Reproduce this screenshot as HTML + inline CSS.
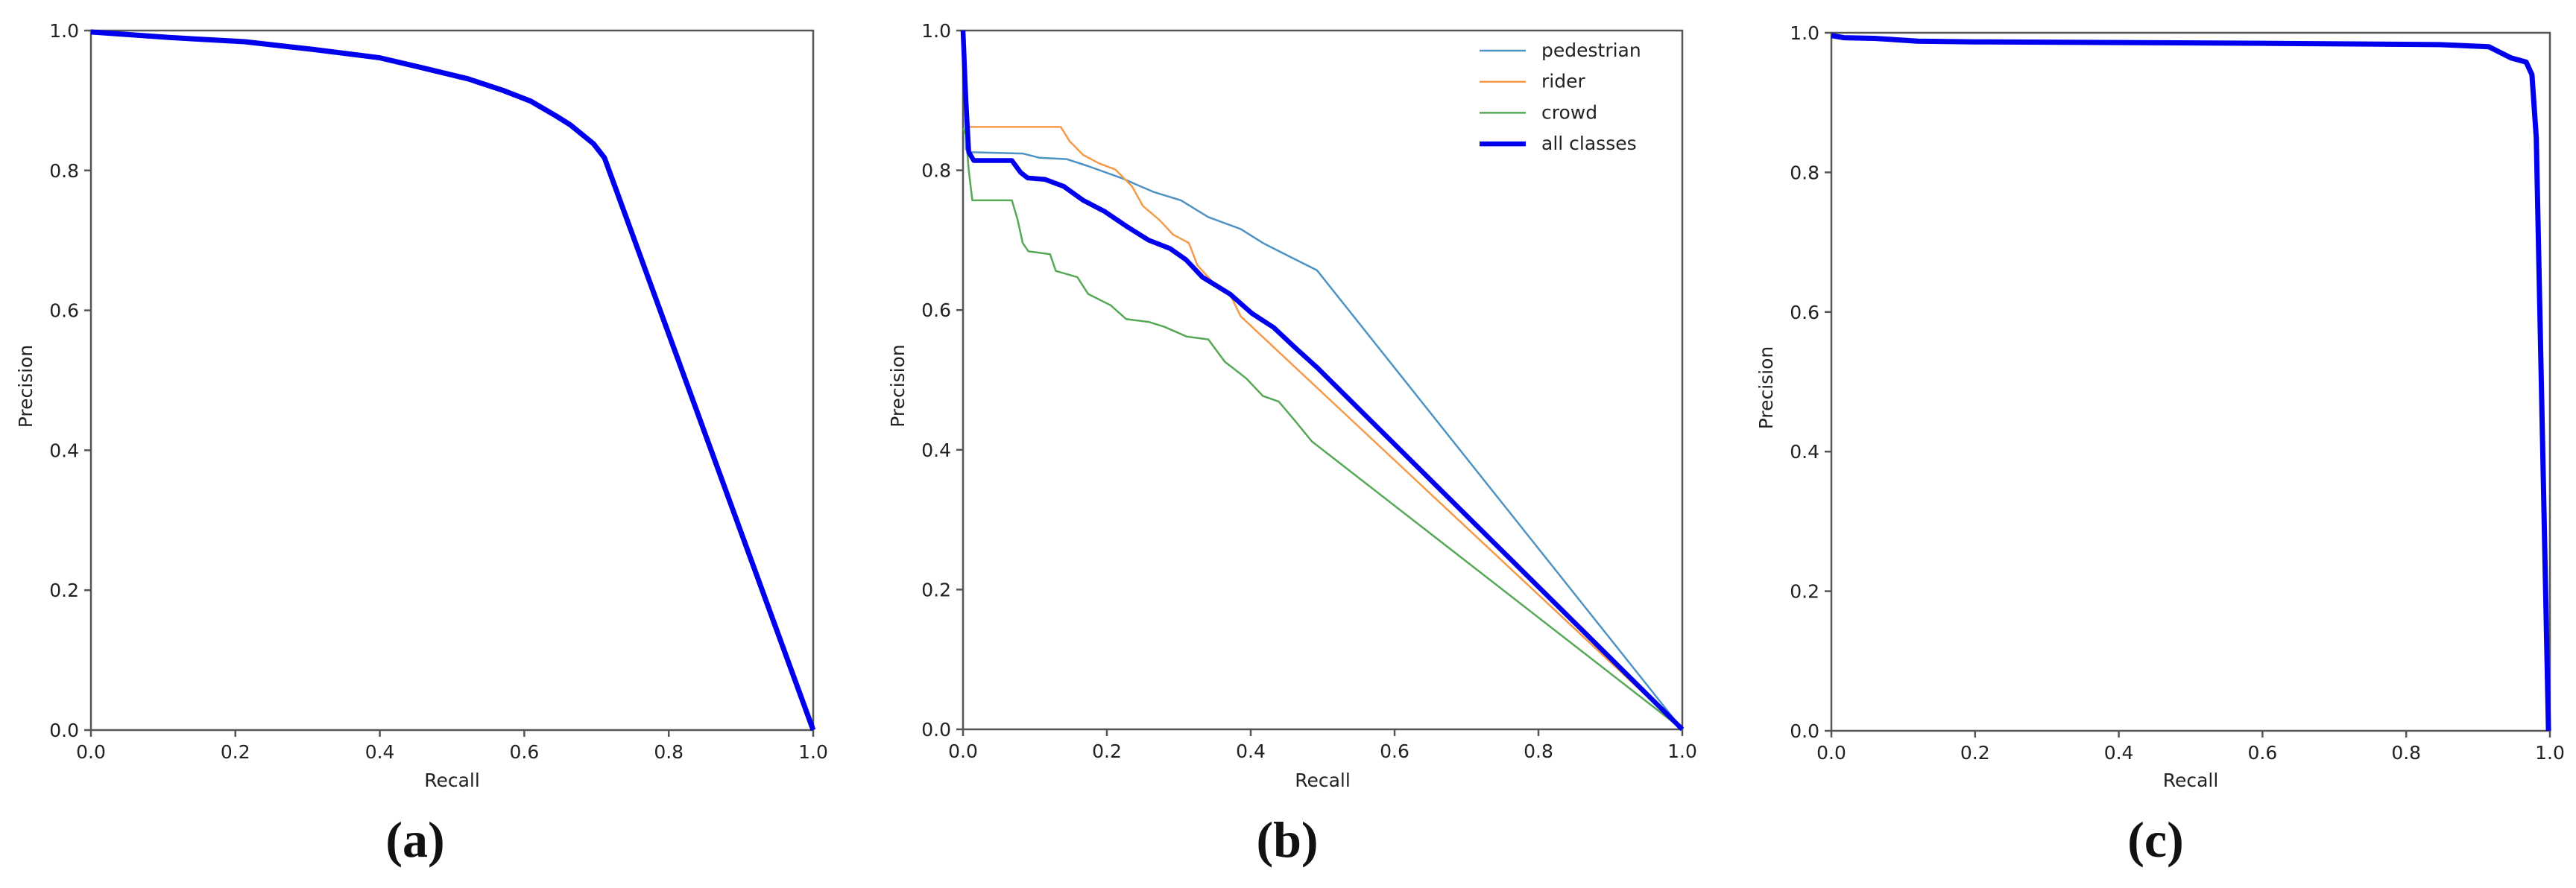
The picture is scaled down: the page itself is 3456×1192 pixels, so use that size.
<!DOCTYPE html>
<html><head><meta charset="utf-8"><style>
html,body{margin:0;padding:0;background:#fff;width:3456px;height:1192px;overflow:hidden}
svg{display:block}
text{font-family:"DejaVu Sans","Liberation Sans",sans-serif;fill:#222}
.lbl{font-family:"Liberation Serif",serif;font-weight:bold;fill:#111}
</style></head><body>
<svg id="fig" width="3456" height="1192" viewBox="0 0 3456 1192"></svg>
<script>
const ticks=[0,0.2,0.4,0.6,0.8,1.0];
const tickLabels=["0.0","0.2","0.4","0.6","0.8","1.0"];
const panelLetters=["(a)","(b)","(c)"];
// Panel a
const aRecall=[0,0.11,0.213,0.308,0.4,0.458,0.522,0.569,0.609,0.644,0.664,0.696,0.711,1.0];
const aPrec=[0.998,0.99,0.984,0.973,0.961,0.947,0.931,0.915,0.899,0.878,0.865,0.838,0.818,0.0];
// Panel b
const bNames=["pedestrian","rider","crowd","all classes"];
const pedR=[0,0.004,0.008,0.083,0.106,0.144,0.174,0.22,0.265,0.303,0.341,0.386,0.417,0.455,0.492,1.0];
const pedP=[1,0.83,0.826,0.824,0.818,0.816,0.806,0.789,0.769,0.757,0.733,0.716,0.696,0.676,0.657,0.0];
const ridR=[0,0.004,0.008,0.136,0.148,0.167,0.189,0.212,0.235,0.25,0.273,0.292,0.314,0.326,0.348,0.371,0.386,1.0];
const ridP=[1,0.87,0.862,0.862,0.842,0.822,0.81,0.801,0.777,0.749,0.729,0.708,0.696,0.664,0.639,0.623,0.591,0.0];
const crR=[0,0.004,0.008,0.013,0.068,0.076,0.083,0.091,0.121,0.129,0.159,0.174,0.205,0.227,0.258,0.28,0.311,0.341,0.364,0.394,0.417,0.439,0.462,0.485,1.0];
const crP=[0.86,0.85,0.8,0.757,0.757,0.729,0.696,0.684,0.68,0.656,0.647,0.623,0.607,0.587,0.583,0.576,0.562,0.558,0.526,0.502,0.477,0.469,0.441,0.412,0.0];
const allR=[0,0.004,0.008,0.015,0.068,0.08,0.09,0.114,0.14,0.167,0.197,0.227,0.258,0.288,0.31,0.333,0.371,0.402,0.432,0.462,0.492,1.0];
const allP=[1,0.9,0.826,0.814,0.814,0.797,0.789,0.787,0.777,0.757,0.741,0.72,0.7,0.688,0.672,0.647,0.623,0.595,0.575,0.546,0.518,0.0];
// Panel c
const cRecall=[0,0.017,0.06,0.12,0.2,0.4,0.6,0.846,0.915,0.946,0.967,0.975,0.981,0.99,0.998];
const cPrec=[0.996,0.993,0.992,0.988,0.987,0.986,0.985,0.983,0.98,0.964,0.958,0.94,0.85,0.4,0.0];

const NS="http://www.w3.org/2000/svg";
const fig=document.getElementById('fig');
function mk(tag,attrs,parent){const e=document.createElementNS(NS,tag);for(const k in attrs)e.setAttribute(k,attrs[k]);(parent||fig).appendChild(e);return e;}
const panels=[{l:122,t:41,r:1091,b:980},{l:1292,t:41,r:2257,b:979},{l:2457,t:44,r:3421,b:981}];
function sx(p,v){return p.l+v*(p.r-p.l);}
function sy(p,v){return p.b-v*(p.b-p.t);}
function pts(p,xs,ys){return xs.map((x,i)=>sx(p,x).toFixed(1)+","+sy(p,ys[i]).toFixed(1)).join(" ");}

panels.forEach((p,i)=>{
  const g=mk('g',{});
  
  
  const fr=mk('rect',{x:p.l,y:p.t,width:p.r-p.l,height:p.b-p.t,fill:'none',stroke:'#555','stroke-width':2.5},g);
  
  
  ticks.forEach((t,k)=>{
    const X=sx(p,t),Y=sy(p,t);
    mk('line',{x1:X,y1:p.b,x2:X,y2:p.b+9,stroke:'#555','stroke-width':2.5},g);
    const xt=mk('text',{x:X,y:p.b+38,'font-size':25,'text-anchor':'middle'},g);
    xt.textContent=tickLabels[k];
    
    
    mk('line',{x1:p.l-9,y1:Y,x2:p.l,y2:Y,stroke:'#555','stroke-width':2.5},g);
    const yt=mk('text',{x:p.l-16,y:Y+9,'font-size':25,'text-anchor':'end'},g);
    yt.textContent=tickLabels[k];
    
    
  });
  const xl=mk('text',{x:(p.l+p.r)/2,y:1056,'font-size':25,'text-anchor':'middle'},g);
  xl.textContent='Recall';
  
  
  const yc=(p.t+p.b)/2+8;
  const yl=mk('text',{x:p.l-79,y:yc,'font-size':25,'text-anchor':'middle',transform:`rotate(-90 ${p.l-79} ${yc})`},g);
  yl.textContent='Precision';
  
  
  const pl=mk('text',{x:p.l+435,y:1150,'font-size':68,'text-anchor':'middle',class:'lbl'},g);
  pl.textContent=panelLetters[i];
  
  
});

const la=mk('polyline',{points:pts(panels[0],aRecall,aPrec),fill:'none',stroke:'#0000ee','stroke-width':7,'stroke-linejoin':'round'});



const bSeries=[[pedR,pedP,'#4d92c4',2.5],[ridR,ridP,'#f59a48',2.5],[crR,crP,'#56a856',2.5],[allR,allP,'#0000ee',6.5]];
bSeries.forEach((s,i)=>{
  const l=mk('polyline',{points:pts(panels[1],s[0],s[1]),fill:'none',stroke:s[2],'stroke-width':s[3],'stroke-linejoin':'round'});
  
  
  const y=68+i*41.7;
  const ll=mk('line',{x1:1985,y1:y,x2:2047,y2:y,stroke:s[2],'stroke-width':s[3]});
  
  
  const lt=mk('text',{x:2068,y:y+8,'font-size':25});
  lt.textContent=bNames[i];
  
  
});

const lc=mk('polyline',{points:pts(panels[2],cRecall,cPrec),fill:'none',stroke:'#0000ee','stroke-width':7,'stroke-linejoin':'round'});


</script>
</body></html>
